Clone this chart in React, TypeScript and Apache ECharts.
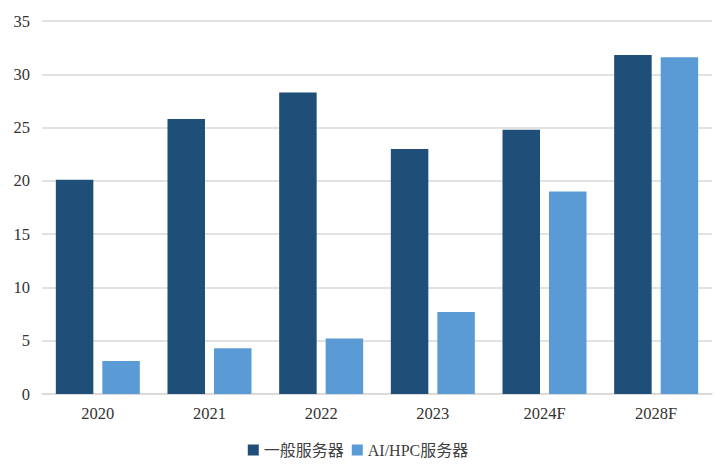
import React, { useEffect, useRef } from "react";
import * as echarts from "echarts";

const categories = ["2020", "2021", "2022", "2023", "2024F", "2028F"];
const generalServers = [20.1, 25.8, 28.3, 23.0, 24.8, 31.8];
const aiHpcServers = [3.1, 4.3, 5.2, 7.7, 19.0, 31.6];
const seriesNames = ["一般服务器", "AI/HPC服务器"];

export default function App() {
  const ref = useRef<HTMLDivElement>(null);
  useEffect(() => {
    if (!ref.current) return;
    const chart = echarts.init(ref.current, undefined, { renderer: "svg" });
    const font = "'Liberation Serif', 'Times New Roman', 'Noto Sans CJK SC', serif";
    chart.setOption({
      animation: false,
      backgroundColor: "#ffffff",
      grid: { left: 42, right: 4, top: 21, bottom: 70 },
      legend: {
        data: seriesNames,
        top: 439,
        left: "center",
        padding: 2,
        itemWidth: 11,
        itemHeight: 11,
        itemGap: 8,
        icon: "rect",
        textStyle: { fontFamily: font, fontSize: 16, lineHeight: 18, color: "#404040" },
      },
      xAxis: {
        type: "category",
        data: categories,
        axisLine: { show: true, lineStyle: { color: "#d9d9d9", width: 1.5 } },
        axisTick: { show: false },
        axisLabel: { fontFamily: font, fontSize: 16.5, color: "#333333", margin: 11 },
      },
      yAxis: {
        type: "value",
        min: 0,
        max: 35,
        interval: 5,
        axisLine: { show: false },
        axisTick: { show: false },
        splitLine: { lineStyle: { color: "#d9d9d9", width: 1.5 } },
        axisLabel: { fontFamily: font, fontSize: 16.5, color: "#333333", margin: 12 },
      },
      series: [
        {
          name: seriesNames[0],
          type: "bar",
          data: generalServers,
          barWidth: 37.5,
          barGap: "24%",
          itemStyle: { color: "#1f4e79" },
        },
        {
          name: seriesNames[1],
          type: "bar",
          data: aiHpcServers,
          barWidth: 37.5,
          itemStyle: { color: "#5b9bd5" },
        },
      ],
    });
    return () => chart.dispose();
  }, []);
  return (
    <div
      ref={ref}
      style={{ position: "fixed", left: 0, top: 0, width: 716, height: 464 }}
    />
  );
}
